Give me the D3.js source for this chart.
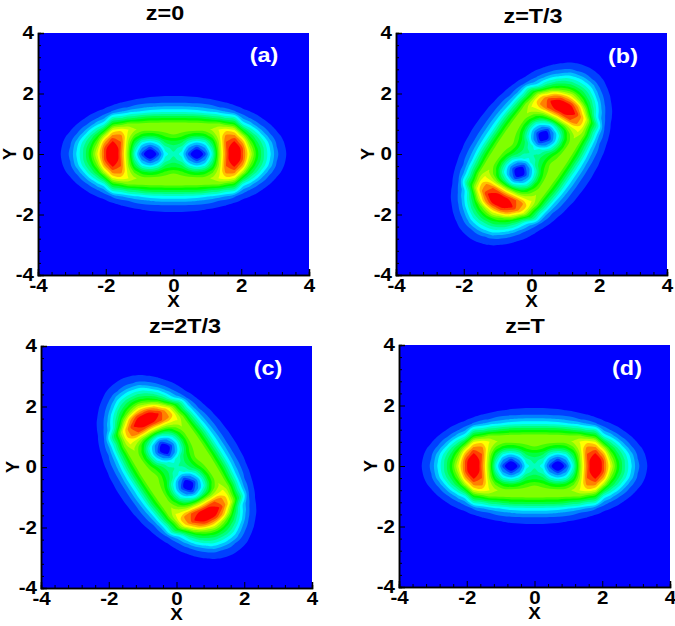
<!DOCTYPE html>
<html>
<head>
<meta charset="utf-8">
<script src="https://cdn.jsdelivr.net/npm/d3@7"></script>
<style>
  body { margin: 0; background: #fff; }
  text { font-family: "Liberation Sans", Arial, sans-serif; font-weight: bold; fill: #000; }
</style>
</head>
<body>
<div id="chart"></div>
<script>
// Values
//= ================================
var panelTitles = ["z=0", "z=T/3", "z=2T/3", "z=T"];
var panelTags = ["(a)", "(b)", "(c)", "(d)"];
var panelAngles = [0, 59, -60, 0]; // tilt of the pattern, degrees

var tickLabels = [-4, -2, 0, 2, 4];
var minorTicks = [-3.6, -3.2, -2.8, -2.4, -1.6, -1.2, -0.8, -0.4, 0.4, 0.8, 1.2, 1.6, 2.4, 2.8, 3.2, 3.6];

// one quarter of the untilted pattern: sample positions and contour level there
var xNodes = [0, 0.25, 0.45, 0.69, 0.93, 1.15, 1.35, 1.55, 1.8, 2.05, 2.25, 2.45, 2.65, 2.85, 3.05, 3.25, 3.45];
var yNodes = [0, 0.2, 0.4, 0.6, 0.8, 1.0, 1.2, 1.4, 1.55, 1.7, 1.85, 2.0];

var levelAtX = [
  [5.7, 6.5, 7.6, 9.8, 10.7, 10.6, 7.85, 4.8, 3.25, 1.95, 1.3, 0.65],
  [4.6, 5.4, 7.2, 9.2, 10.6, 10.6, 7.85, 4.8, 3.25, 1.95, 1.28, 0.65],
  [1.6, 3.0, 5.3, 8.4, 10.5, 10.5, 7.8, 4.75, 3.15, 1.88, 1.2, 0.58],
  [-1, 1.5, 4.3, 7.8, 10.4, 10.4, 7.7, 4.6, 3, 1.8, 1.14, 0.5],
  [1.6, 3.0, 5.1, 8.4, 10.5, 10.3, 7.3, 4.25, 2.7, 1.65, 0.95, 0.33],
  [5.3, 6.2, 7.8, 9.8, 11.2, 10.15, 6.9, 3.9, 2.35, 1.45, 0.8, 0.15],
  [10.7, 10.9, 11.2, 11.8, 12.1, 10.1, 6.55, 3.5, 1.95, 1.2, 0.62, 0],
  [14.7, 14.9, 15, 14.3, 12.6, 9.3, 5.8, 3, 1.7, 1, 0.4, -0.2],
  [19, 18.2, 16.2, 14.3, 11.9, 8.4, 5.4, 2.15, 1.3, 0.6, 0.1, -0.6],
  [15, 14.9, 13.6, 11.2, 7.9, 4.75, 2.7, 1.35, 0.8, 0.3, -0.6, -1],
  [12, 11.2, 9.9, 8, 5.8, 3.6, 1.9, 1.05, 0.5, -0.1, -0.8, -1],
  [8.7, 8.3, 7.3, 6, 4.2, 2.3, 1.4, 0.65, 0.1, -0.8, -1, -1],
  [6.2, 6.1, 5.4, 4, 2.5, 1.55, 0.85, 0.2, -1, -1, -1, -1],
  [4.2, 3.95, 3.4, 2.3, 1.55, 0.97, 0.35, -1, -1, -1, -1, -1],
  [2.2, 2.05, 1.75, 1.35, 0.9, 0.4, -1, -1, -1, -1, -1, -1],
  [1.3, 1.2, 1.03, 0.75, 0.3, -1, -1, -1, -1, -1, -1, -1],
  [0.55, 0.5, 0.4, 0.1, -1, -1, -1, -1, -1, -1, -1, -1]
];

var levelColors = ["#0000ff", "#0040ff", "#0080ff", "#00bfff", "#00ffff", "#00ffbf", "#00ff80", "#00ff40",
  "#00ff00", "#40ff00", "#80ff00", "#bfff00", "#ffff00", "#ffbf00", "#ff8000", "#ff4000", "#ff0000"];

// Set up chart
//= ================================
var svgWidth = 675;
var svgHeight = 626;

var panels = [
  { left: 38, top: 33, titleX: 165, titleY: 20, tagX: 264, tagY: 62, yLabelX: 9 },
  { left: 396, top: 33, titleX: 533, titleY: 23, tagX: 623, tagY: 63, yLabelX: 367 },
  { left: 41, top: 346, titleX: 185, titleY: 333, tagX: 268, tagY: 375, yLabelX: 12 },
  { left: 399, top: 345, titleX: 525, titleY: 333, tagX: 627, tagY: 375, yLabelX: 370 }
];
var plotWidth = 271;
var plotHeight = 242;
var textStretch = 1.14; // the source figure is a bit wider than tall

var svg = d3.select("#chart")
  .append("svg")
  .attr("width", svgWidth)
  .attr("height", svgHeight);

// mirror the quarter into a full grid
var fullX = xNodes.slice(1).reverse().map(d => -d).concat(xNodes);
var fullY = yNodes.slice(1).reverse().map(d => -d).concat(yNodes);
var nx = fullX.length;
var ny = fullY.length;

var grid = [];
fullY.forEach(function(y, j) {
  fullX.forEach(function(x, i) {
    grid.push(levelAtX[Math.abs(i - xNodes.length + 1)][Math.abs(j - yNodes.length + 1)]);
  });
});

var thresholds = d3.range(1, levelColors.length);
var bands = d3.contours().size([nx, ny]).thresholds(thresholds)(grid);

// index on the grid -> position on the plot
var xOfIndex = d3.scaleLinear().domain(d3.range(nx)).range(fullX);
var yOfIndex = d3.scaleLinear().domain(d3.range(ny)).range(fullY);

var smoothRing = d3.line().curve(d3.curveCatmullRomClosed);

function addText(x, y, size, label, fill) {
  return svg.append("text")
    .attr("transform", `translate(${x}, ${y}) scale(${textStretch}, 1)`)
    .attr("text-anchor", "middle")
    .attr("font-size", size)
    .style("fill", fill || "#000")
    .text(label);
}

panels.forEach(function(p, k) {
  var xScale = d3.scaleLinear().domain([-4, 4]).range([0, plotWidth]);
  var yScale = d3.scaleLinear().domain([-4, 4]).range([plotHeight, 0]);

  var chartGroup = svg.append("g")
    .attr("transform", `translate(${p.left}, ${p.top})`);

  chartGroup.append("rect")
    .attr("width", plotWidth)
    .attr("height", plotHeight)
    .attr("fill", levelColors[0]);

  var angle = panelAngles[k] * Math.PI / 180;
  var toPixels = function(c) {
    var u = xOfIndex(c[0] - 0.5);
    var v = yOfIndex(c[1] - 0.5);
    return [xScale(u * Math.cos(angle) - v * Math.sin(angle)),
      yScale(u * Math.sin(angle) + v * Math.cos(angle))];
  };

  chartGroup.selectAll("path.band")
    .data(bands)
    .enter()
    .append("path")
    .attr("class", "band")
    .attr("fill", (d, i) => levelColors[i + 1])
    .attr("fill-rule", "evenodd")
    .attr("d", function(d) {
      var out = "";
      d.coordinates.forEach(function(polygon) {
        polygon.forEach(function(ring) {
          out += smoothRing(ring.slice(0, -1).map(toPixels));
        });
      });
      return out;
    });

  // Tecplot style axes, ticks pointing in
  var bottomAxis = d3.axisBottom(xScale).tickValues(tickLabels).tickSize(-6).tickPadding(4).tickFormat(d => String(d));
  var leftAxis = d3.axisLeft(yScale).tickValues(tickLabels).tickSize(-6).tickPadding(4).tickFormat(d => String(d));
  var bottomMinor = d3.axisBottom(xScale).tickValues(minorTicks).tickSize(-3).tickFormat("");
  var leftMinor = d3.axisLeft(yScale).tickValues(minorTicks).tickSize(-3).tickFormat("");

  [bottomMinor, bottomAxis].forEach(function(axis) {
    chartGroup.append("g").attr("class", "axis")
      .attr("transform", `translate(0, ${plotHeight})`)
      .call(axis);
  });
  [leftMinor, leftAxis].forEach(function(axis) {
    chartGroup.append("g").attr("class", "axis").call(axis);
  });

  chartGroup.selectAll(".axis path").attr("stroke", "#000").attr("stroke-width", 1.5);
  chartGroup.selectAll(".axis line").attr("stroke", "#000").attr("stroke-width", 1);
  chartGroup.selectAll(".axis text")
    .attr("font-size", 18)
    .attr("font-family", "Liberation Sans")
    .each(function() {
      var t = d3.select(this);
      t.attr("transform", `translate(${+t.attr("x") || 0}, 0) scale(${textStretch}, 1)`).attr("x", 0);
    });

  // titles and labels
  addText(p.titleX, p.titleY, 20.5, panelTitles[k]);
  addText(p.tagX, p.tagY, 20.5, panelTags[k], "#fff");
  addText(p.left + plotWidth / 2, p.top + plotHeight + 32, 16.5, "X");

  svg.append("text")
    .attr("transform", `translate(${p.yLabelX + 7}, ${p.top + plotHeight / 2}) rotate(-90)`)
    .attr("text-anchor", "middle")
    .attr("font-size", 18)
    .text("Y");
});
</script>
</body>
</html>
